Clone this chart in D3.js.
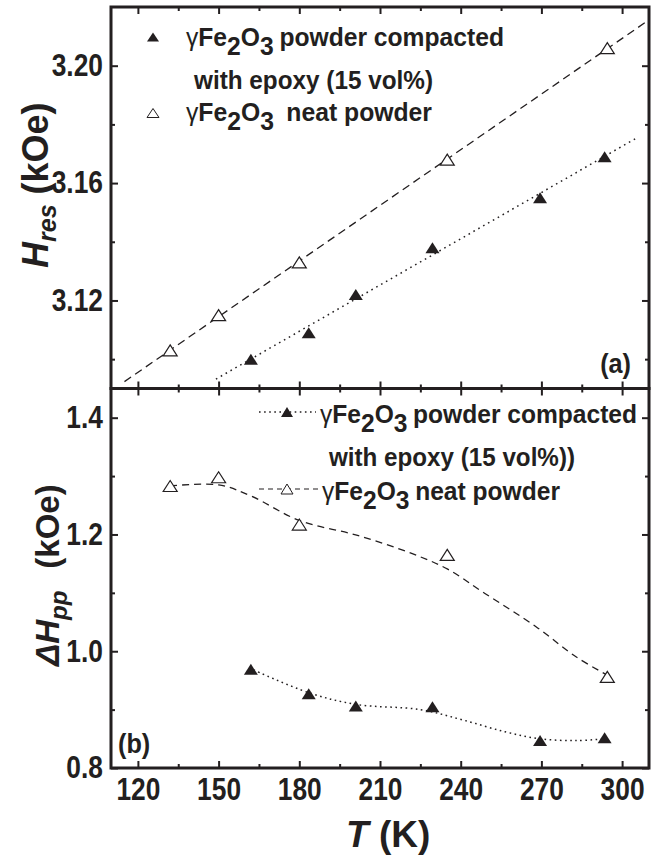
<!DOCTYPE html>
<html>
<head>
<meta charset="utf-8">
<script src="https://cdn.jsdelivr.net/npm/d3@7"></script>
<style>
  body { margin: 0; background: #fff; }
  text { font-family: "Liberation Sans", Arial, sans-serif; font-weight: bold; fill: #231f20; }
</style>
</head>
<body>
<div class="chart"></div>
<script>
// data
const tempFilled = [162, 183.5, 201, 229.5, 269.5, 293.5];
const tempOpen = [132, 150, 180, 235, 294.5];
const hresFilled = [3.100, 3.109, 3.122, 3.138, 3.155, 3.169];
const hresOpen = [3.103, 3.115, 3.133, 3.168, 3.206];
const hppFilled = [0.969, 0.927, 0.906, 0.905, 0.847, 0.852];
const hppOpen = [1.283, 1.298, 1.217, 1.165, 0.956];

// linear fit extents in panel (a)
const fitRangeFilled = [149, 306];
const fitRangeOpen = [115, 310];

// smoothed guide curves in panel (b)
const smoothOpenT = [132, 150, 162, 180, 202, 222, 235, 249, 268, 283, 294.5];
const smoothOpenV = [1.283, 1.285, 1.266, 1.224, 1.198, 1.167, 1.141, 1.099, 1.042, 0.990, 0.959];
const smoothFilledT = [163, 183.5, 201, 225, 241, 256.5, 269.5, 283, 293.5];
const smoothFilledV = [0.968, 0.929, 0.909, 0.900, 0.882, 0.862, 0.850, 0.847, 0.850];

const xTicks = [120, 150, 180, 210, 240, 270, 300];
const xMinor = [135, 165, 195, 225, 255, 285];
const yTopTicks = [3.12, 3.16, 3.20];
const yTopMinor = [3.10, 3.14, 3.18];
const yBotTicks = [0.8, 1.0, 1.2, 1.4];
const yBotMinor = [0.9, 1.1, 1.3];

// layout
const W = 663, H = 858;
const left = 111, right = 649;
const topY0 = 7, midY = 388.5, botY1 = 768;

const svg = d3.select(".chart").append("svg")
    .attr("width", W).attr("height", H);

const x = d3.scaleLinear().domain([110, 310]).range([left, right]);
const yTop = d3.scaleLinear().domain([3.09, 3.22]).range([midY, topY0]);
const yBot = d3.scaleLinear().domain([0.8, 1.45]).range([botY1, midY]);

const ink = "#231f20";

// narrow the text a bit (the figure uses a condensed sans)
function squeeze(sel, f) {
    sel.each(function () {
        const n = this.getComputedTextLength();
        d3.select(this).attr("textLength", n * f).attr("lengthAdjust", "spacingAndGlyphs");
    });
}

// clip paths
const defs = svg.append("defs");
defs.append("clipPath").attr("id", "clipTop").append("rect")
    .attr("x", left).attr("y", topY0).attr("width", right - left).attr("height", midY - topY0);
defs.append("clipPath").attr("id", "clipBot").append("rect")
    .attr("x", left).attr("y", midY).attr("width", right - left).attr("height", botY1 - midY);

// triangle marker path
function tri(w, h) {
    return `M0,${-h / 2}L${w / 2},${h / 2}L${-w / 2},${h / 2}Z`;
}

// axes for a panel
function drawAxes(y, y0, y1, major, minor, fmt) {
    const g = svg.append("g");
    // left
    g.append("g").attr("transform", `translate(${left},0)`)
        .call(d3.axisLeft(y).tickValues(major).tickSize(-7).tickPadding(8).tickFormat(fmt));
    g.append("g").attr("transform", `translate(${left},0)`)
        .call(d3.axisLeft(y).tickValues(minor).tickSize(-4).tickFormat(""));
    // right
    g.append("g").attr("transform", `translate(${right},0)`)
        .call(d3.axisRight(y).tickValues(major).tickSize(-7).tickFormat(""));
    g.append("g").attr("transform", `translate(${right},0)`)
        .call(d3.axisRight(y).tickValues(minor).tickSize(-4).tickFormat(""));
    // top & bottom (inward)
    g.append("g").attr("transform", `translate(0,${y0})`)
        .call(d3.axisTop(x).tickValues(xTicks).tickSize(-7).tickFormat(""));
    g.append("g").attr("transform", `translate(0,${y0})`)
        .call(d3.axisTop(x).tickValues(xMinor).tickSize(-4).tickFormat(""));
    g.append("g").attr("transform", `translate(0,${y1})`)
        .call(d3.axisBottom(x).tickValues(xTicks).tickSize(-7).tickFormat(""));
    g.append("g").attr("transform", `translate(0,${y1})`)
        .call(d3.axisBottom(x).tickValues(xMinor).tickSize(-4).tickFormat(""));
    g.selectAll(".domain").remove();
    g.selectAll(".tick line").attr("stroke", ink).attr("stroke-width", 2);
    g.selectAll(".tick text").attr("font-size", 31).style("font-weight", "bold").attr("fill", ink)
        .attr("font-family", "Liberation Sans, Arial, sans-serif").call(squeeze, 0.85);
    // frame
    svg.append("rect").attr("x", left).attr("y", y0)
        .attr("width", right - left).attr("height", y1 - y0)
        .attr("fill", "none").attr("stroke", ink).attr("stroke-width", 3);
}

drawAxes(yTop, topY0, midY, yTopTicks, yTopMinor, d3.format(".2f"));
drawAxes(yBot, midY, botY1, yBotTicks, yBotMinor, d3.format(".1f"));

// x tick labels on bottom
const xLab = svg.append("g").attr("transform", `translate(0,${botY1})`)
    .call(d3.axisBottom(x).tickValues(xTicks).tickSize(0).tickPadding(10));
xLab.select(".domain").remove();
xLab.selectAll(".tick text").attr("font-size", 31).attr("fill", ink)
    .attr("font-family", "Liberation Sans, Arial, sans-serif").style("font-weight", "bold")
    .call(squeeze, 0.85);

// ---- panel (a): linear fits ----
function linFit(xs, ys) {
    const mx = d3.mean(xs), my = d3.mean(ys);
    let sxy = 0, sxx = 0;
    xs.forEach((v, i) => { sxy += (v - mx) * (ys[i] - my); sxx += (v - mx) * (v - mx); });
    const b = sxy / sxx;
    return t => my + b * (t - mx);
}
const fitF = linFit(tempFilled, hresFilled);
const fitO = linFit(tempOpen, hresOpen);

const gTop = svg.append("g").attr("clip-path", "url(#clipTop)");
gTop.append("line")
    .attr("x1", x(fitRangeOpen[0])).attr("y1", yTop(fitO(fitRangeOpen[0])))
    .attr("x2", x(fitRangeOpen[1])).attr("y2", yTop(fitO(fitRangeOpen[1])))
    .attr("stroke", ink).attr("stroke-width", 1.3).attr("stroke-dasharray", "8,5");
gTop.append("line")
    .attr("x1", x(fitRangeFilled[0])).attr("y1", yTop(fitF(fitRangeFilled[0])))
    .attr("x2", x(fitRangeFilled[1])).attr("y2", yTop(fitF(fitRangeFilled[1])))
    .attr("stroke", ink).attr("stroke-width", 1.5).attr("stroke-dasharray", "1.6,4");

gTop.selectAll(".openA").data(tempOpen).enter().append("path")
    .attr("d", tri(14, 11))
    .attr("transform", (d, i) => `translate(${x(d)},${yTop(hresOpen[i])})`)
    .attr("fill", "#fff").attr("stroke", ink).attr("stroke-width", 1.2);
gTop.selectAll(".fillA").data(tempFilled).enter().append("path")
    .attr("d", tri(14, 11))
    .attr("transform", (d, i) => `translate(${x(d)},${yTop(hresFilled[i])})`)
    .attr("fill", ink);

// ---- panel (b): smoothed guides ----
const gBot = svg.append("g").attr("clip-path", "url(#clipBot)");
const lineB = d3.line().x(d => x(d[0])).y(d => yBot(d[1])).curve(d3.curveCatmullRom);
gBot.append("path").datum(smoothOpenT.map((t, i) => [t, smoothOpenV[i]]))
    .attr("d", lineB).attr("fill", "none").attr("stroke", ink)
    .attr("stroke-width", 1.3).attr("stroke-dasharray", "7,5");
gBot.append("path").datum(smoothFilledT.map((t, i) => [t, smoothFilledV[i]]))
    .attr("d", lineB).attr("fill", "none").attr("stroke", ink)
    .attr("stroke-width", 1.5).attr("stroke-dasharray", "1.6,3.5");

gBot.selectAll(".openB").data(tempOpen).enter().append("path")
    .attr("d", tri(14, 11))
    .attr("transform", (d, i) => `translate(${x(d)},${yBot(hppOpen[i])})`)
    .attr("fill", "#fff").attr("stroke", ink).attr("stroke-width", 1.2);
gBot.selectAll(".fillB").data(tempFilled).enter().append("path")
    .attr("d", tri(14, 11))
    .attr("transform", (d, i) => `translate(${x(d)},${yBot(hppFilled[i])})`)
    .attr("fill", ink);

// ---- legends ----
function fitWidth(t, len) {
    t.attr("textLength", len).attr("lengthAdjust", "spacingAndGlyphs");
}
function formula(px, py, rest, gap, len) {
    const t = svg.append("text").attr("x", px).attr("y", py).attr("font-size", 26);
    t.append("tspan").text("γ").style("font-weight", "normal");
    t.append("tspan").text("Fe");
    t.append("tspan").attr("dy", 9).text("2");
    t.append("tspan").attr("dy", -9).text("O");
    t.append("tspan").attr("dy", 9).text("3");
    t.append("tspan").attr("dy", -9).attr("dx", gap).text(rest);
    fitWidth(t, len);
}
function plain(px, py, s, len) {
    const t = svg.append("text").attr("x", px).attr("y", py).attr("font-size", 26).text(s);
    fitWidth(t, len);
}

// legend (a)
svg.append("path").attr("d", tri(12, 9)).attr("transform", "translate(153,37)").attr("fill", ink);
formula(186, 46, "powder compacted", 6, 318);
plain(194, 89, "with epoxy (15 vol%)", 239);
svg.append("path").attr("d", tri(12, 9)).attr("transform", "translate(153,113)")
    .attr("fill", "#fff").attr("stroke", ink).attr("stroke-width", 1);
formula(186, 121, "neat powder", 13, 246);

// legend (b)
svg.append("line").attr("x1", 259).attr("x2", 316).attr("y1", 412).attr("y2", 412)
    .attr("stroke", ink).attr("stroke-width", 1.3).attr("stroke-dasharray", "1.6,3.5");
svg.append("path").attr("d", tri(12, 10)).attr("transform", "translate(287,412)").attr("fill", ink);
formula(320, 423, "powder compacted", 6, 317);
plain(329, 466, "with epoxy (15 vol%))", 246);
svg.append("line").attr("x1", 259).attr("x2", 318).attr("y1", 489).attr("y2", 489)
    .attr("stroke", ink).attr("stroke-width", 1.2).attr("stroke-dasharray", "5,4");
svg.append("path").attr("d", tri(12, 10)).attr("transform", "translate(287,489)")
    .attr("fill", "#fff").attr("stroke", ink).attr("stroke-width", 1);
formula(322, 500, "neat powder", 6, 238);

// panel labels
svg.append("text").attr("x", 631).attr("y", 373).attr("text-anchor", "end").attr("font-size", 28)
    .text("(a)").call(squeeze, 0.9);
svg.append("text").attr("x", 118).attr("y", 753).attr("font-size", 28).text("(b)").call(squeeze, 0.9);

// axis titles
const xt = svg.append("text").attr("x", 346).attr("y", 847).attr("font-size", 37);
xt.append("tspan").text("T").style("font-style", "italic");
xt.append("tspan").text(" (K)");

const yt1 = svg.append("text").attr("transform", "translate(48,268) rotate(-90)").attr("font-size", 36);
yt1.append("tspan").text("H").style("font-style", "italic");
yt1.append("tspan").text("res").attr("font-size", 25).attr("dy", 8).style("font-style", "italic");
yt1.append("tspan").text(" (kOe)").attr("dy", -8);

const yt2 = svg.append("text").attr("transform", "translate(59,666) rotate(-90)").attr("font-size", 33);
yt2.append("tspan").text("ΔH").style("font-style", "italic");
yt2.append("tspan").text("pp").attr("font-size", 24).attr("dy", 8).style("font-style", "italic");
yt2.append("tspan").text("(kOe)").attr("dy", -8).attr("dx", 22);
</script>
</body>
</html>
